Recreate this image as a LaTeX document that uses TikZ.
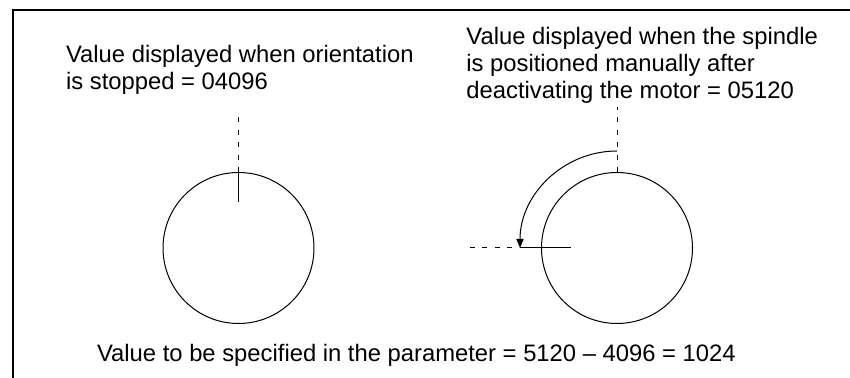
\documentclass[tikz,border=0pt]{standalone}
\usepackage{fontspec}
\setmainfont{Liberation Sans}
\usetikzlibrary{positioning, arrows.meta, calc}

\begin{document}
\begin{tikzpicture}[
    x=0.5pt, y=0.5pt,
    frame/.style={line width=1pt},
    disc/.style={draw, circle, line width=0.5pt, minimum size=75.5pt, inner sep=0pt},
    tick/.style={line width=0.5pt},
    guide/.style={line width=0.5pt, dash pattern=on 2.5pt off 3.7pt},
    lbl/.style={anchor=base west, align=left, inner sep=0pt, font=\fontsize{11.9pt}{13.6pt}\selectfont},
    arr/.style={line width=0.5pt, -{Triangle[length=4.5pt, width=3.6pt]}}
]
    \useasboundingbox (0,0) rectangle (850,378);
    \draw[frame] (12.5,0) -- (12.5,367.5) -- (850,367.5);

    \node[lbl] (lblstop) at (65.7,288.7) {Value displayed when orientation\\is stopped = 04096};
    \node[lbl] (lblmanual) at (466,279) {Value displayed when the spindle\\is positioned manually after\\deactivating the motor = 05120};
    \node[lbl] (lblparam) at (96.7,16.3) {Value to be specified in the parameter = 5120 -- 4096 = 1024};

    % spindle stopped by orientation
    \node[disc] (stopped) at (238.5,130) {};
    \draw[tick] (stopped.north) -- ++(0,-30);
    \draw[guide] (stopped.north) -- ++(0,58.5);

    % spindle turned by hand
    \node[disc] (manual) at (617,130) {};
    \coordinate (zero) at (617,271);
    \coordinate (tipA) at (520,130);
    \coordinate (hline) at (470,130);
    \draw[guide] (manual.north) -- (zero);
    \draw[tick] (tipA) -- ($(manual.west)+(30,0)$);
    \draw[guide] (hline) -- (tipA);
    \draw[arr] ($(manual.center)+(0,97)$) arc[start angle=90, end angle=180, radius=97];
\end{tikzpicture}
\end{document}
